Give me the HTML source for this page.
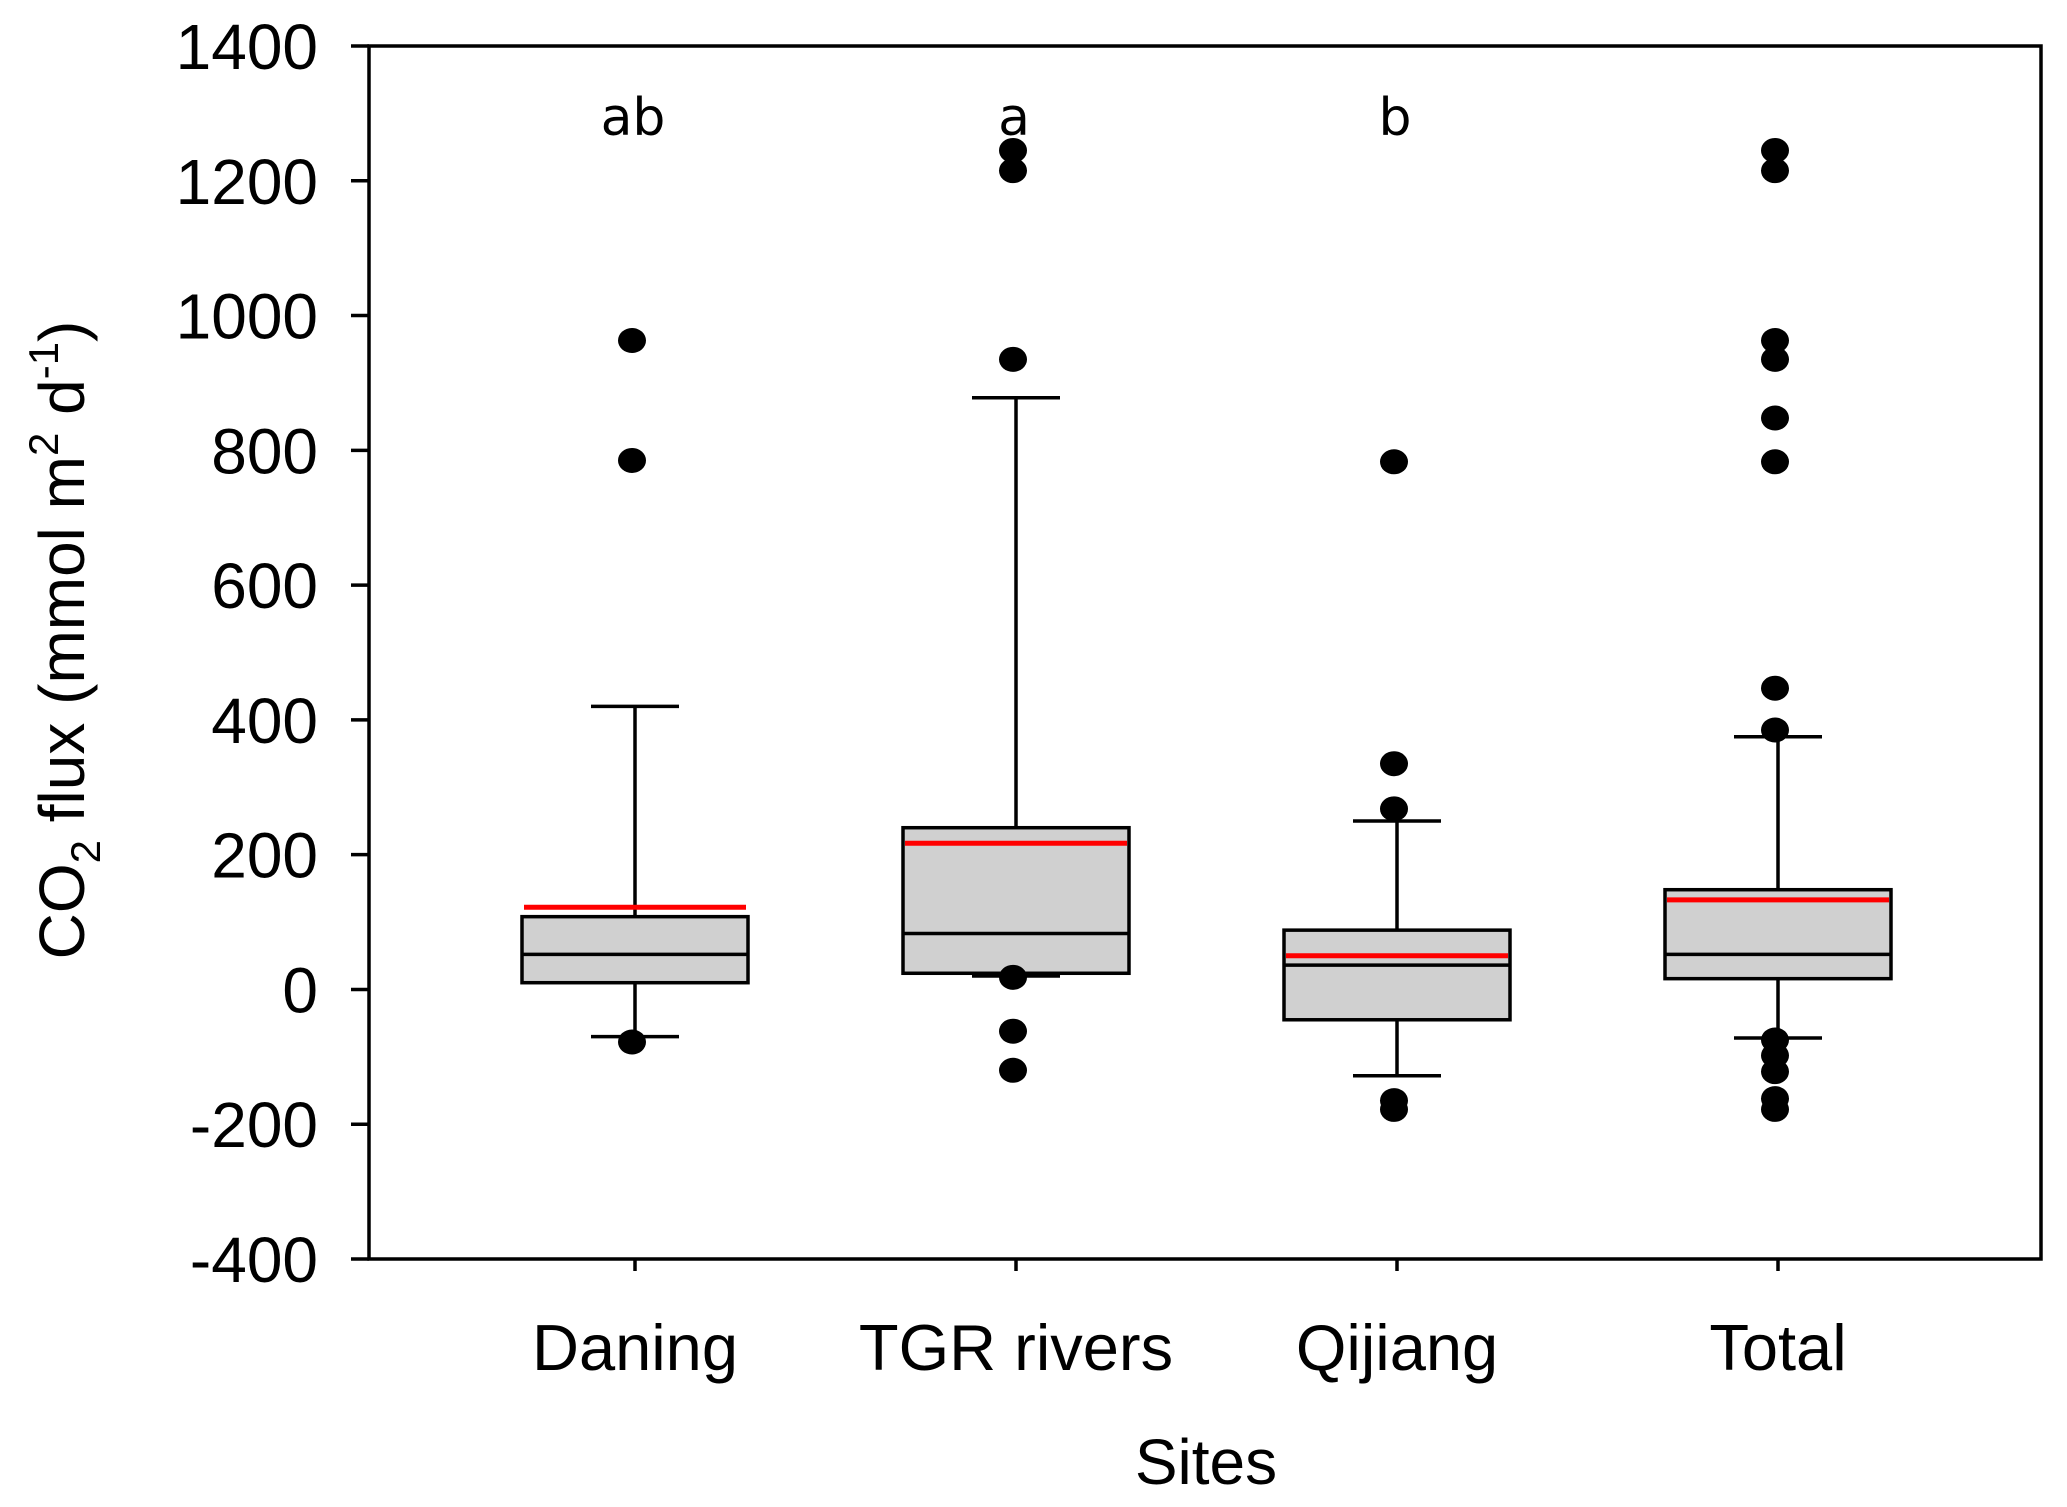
<!DOCTYPE html>
<html><head><meta charset="utf-8"><style>
html,body{margin:0;padding:0;background:#fff;}
svg{display:block;font-family:"Liberation Sans",Arial,sans-serif;}
</style></head><body>
<svg id="chart" width="2067" height="1507" viewBox="0 0 2067 1507" xmlns="http://www.w3.org/2000/svg">
<text transform="translate(84,640) rotate(-90)" text-anchor="middle" font-size="64">CO<tspan font-size="42" dy="16">2</tspan><tspan dy="-16"> flux (mmol m</tspan><tspan font-size="42" dy="-26">2</tspan><tspan dy="26"> d</tspan><tspan font-size="42" dy="-26">-1</tspan><tspan dy="26">)</tspan></text>
<text x="1206" y="1484" text-anchor="middle" font-size="64">Sites</text>
</svg>
<script>
const categories = ["Daning","TGR rivers","Qijiang","Total"];
const sigLetters = ["ab","a","b",""];
const whiskerLow = [-70, 20, -128, -72];
const q1Values = [10, 24, -45, 16];
const medianValues = [52, 83, 36, 52];
const q3Values = [108, 240, 88, 148];
const whiskerHigh = [420, 878, 250, 375];
const meanValues = [122, 217, 50, 133];
const outliers = [
  [963, 785, -78],
  [1245, 1215, 935, 18, -62, -120],
  [783, 335, 268, -165, -178],
  [1245, 1215, 963, 935, 848, 783, 447, 385, -75, -98, -122, -162, -178]
];
const yTicks = [-400,-200,0,200,400,600,800,1000,1200,1400];

const svg = document.getElementById('chart');
const NS = 'http://www.w3.org/2000/svg';
const L = 369, R = 2041, T = 46, B = 1259;
const yMin = -400, yMax = 1400;
function y(v){ return B - (v - yMin) / (yMax - yMin) * (B - T); }
const cx0 = 635, cstep = 381;
function x(i){ return cx0 + i * cstep; }
function mk(tag, attrs, parent){
  const e = document.createElementNS(NS, tag);
  for (const k in attrs) e.setAttribute(k, attrs[k]);
  (parent || svg).appendChild(e);
  return e;
}
const SW = 3.5;
const frame = mk('rect', {x:L, y:T, width:R-L, height:B-T, fill:'none', stroke:'#000', 'stroke-width':SW});



yTicks.forEach(v => {
  const t = mk('line', {x1:351, x2:L, y1:y(v), y2:y(v), stroke:'#000', 'stroke-width':SW});
  
  
  const lb = mk('text', {x:318, y:y(v)+23, 'text-anchor':'end', 'font-size':64});
  lb.textContent = v;
  
  
});

categories.forEach((c, i) => {
  const cx = x(i);
  const g = mk('g', {});
  
  
  const hw = 113, cap = 44;
  mk('line', {x1:cx, x2:cx, y1:B, y2:B+12, stroke:'#000', 'stroke-width':SW}, g);
  mk('line', {x1:cx, x2:cx, y1:y(whiskerHigh[i]), y2:y(q3Values[i]), stroke:'#000', 'stroke-width':SW}, g);
  mk('line', {x1:cx, x2:cx, y1:y(q1Values[i]), y2:y(whiskerLow[i]), stroke:'#000', 'stroke-width':SW}, g);
  mk('line', {x1:cx-cap, x2:cx+cap, y1:y(whiskerHigh[i]), y2:y(whiskerHigh[i]), stroke:'#000', 'stroke-width':SW}, g);
  mk('line', {x1:cx-cap, x2:cx+cap, y1:y(whiskerLow[i]), y2:y(whiskerLow[i]), stroke:'#000', 'stroke-width':SW}, g);
  mk('rect', {x:cx-hw, y:y(q3Values[i]), width:2*hw, height:y(q1Values[i])-y(q3Values[i]), fill:'#d0d0d0', stroke:'#000', 'stroke-width':SW}, g);
  mk('line', {x1:cx-hw, x2:cx+hw, y1:y(medianValues[i]), y2:y(medianValues[i]), stroke:'#000', 'stroke-width':SW}, g);
  const m = mk('line', {x1:cx-hw+2, x2:cx+hw-2, y1:y(meanValues[i]), y2:y(meanValues[i]), stroke:'#f00', 'stroke-width':5}, g);
  
  
  outliers[i].forEach(v => {
    const d = mk('ellipse', {cx:cx-3, cy:y(v), rx:14, ry:12.5, fill:'#000'}, g);
    
    
  });
  const lb = mk('text', {x:cx, y:1370, 'text-anchor':'middle', 'font-size':65});
  lb.textContent = c;
  
  
  if (sigLetters[i]) {
    const s = mk('text', {x:cx-2, y:135, 'text-anchor':'middle', 'font-size':52, 'font-family':'"DejaVu Sans","Liberation Sans",sans-serif'});
    s.textContent = sigLetters[i];
    
    
  }
});
</script>
</body></html>
